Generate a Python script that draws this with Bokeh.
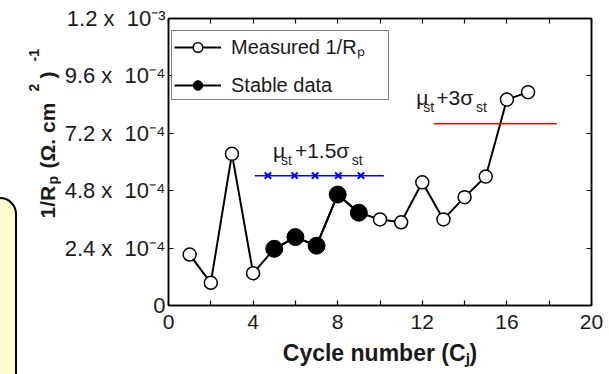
import math
from bokeh.plotting import figure
from bokeh.layouts import row
from bokeh.models import (FixedTicker, LinearAxis, Range1d, Label, Legend, LegendItem, Div)
from bokeh.embed import file_html
from bokeh.resources import INLINE

# ---------------- data ----------------
cycles = [1, 2, 3, 4, 5, 6, 7, 8, 9, 10, 11, 12, 13, 14, 15, 16, 17]
inv_rp = [2.13e-4, 0.95e-4, 6.34e-4, 1.35e-4, 2.37e-4, 2.86e-4, 2.50e-4, 4.64e-4,
          3.88e-4, 3.60e-4, 3.48e-4, 5.15e-4, 3.60e-4, 4.53e-4, 5.39e-4, 8.61e-4, 8.92e-4]
stable_cycles = [5, 6, 7, 8, 9]
stable_vals = [2.37e-4, 2.86e-4, 2.50e-4, 4.64e-4, 3.88e-4]

lim15_x = [4.08, 10.18]
lim15_y = [5.43e-4, 5.43e-4]
lim15_marks_x = [4.7, 5.96, 6.93, 8.03, 9.1]
lim3_x = [12.55, 18.35]
lim3_y = [7.60e-4, 7.60e-4]

x_ticks = [0, 4, 8, 12, 16, 20]
x_minor = [2, 6, 10, 14, 18]
y_ticks = [0, 2.4e-4, 4.8e-4, 7.2e-4, 9.6e-4, 1.2e-3]
y_tick_labels = ["0",
                 "2.4 x\u00a0 10\u207b\u2074", "4.8 x\u00a0 10\u207b\u2074",
                 "7.2 x\u00a0 10\u207b\u2074", "9.6 x\u00a0 10\u207b\u2074",
                 "1.2 x\u00a0 10\u207b\u00b3"]

# y-axis title pieces: (text, font px, start px along text from bottom, baseline x)
ytitle_parts = [("1/R", 21, 218, 47), ("p", 14, 184, 52), ("(\u03a9. cm", 21, 168, 47),
                ("2", 14, 91, 33), (")", 21, 78, 47), ("-1", 14, 61, 33)]

X0, X1 = 0, 20
Y0, Y1 = 0, 1.2e-3

# ---------------- layout geometry ----------------
W, H = 609, 374
YW = 17                      # yellow strip width
TW = 44                      # y-title strip width
MW = W - YW - TW             # main figure width
ML, MR, MT, MB = 166 - YW - TW, 18, 18, 69
FW, FH = MW - ML - MR, H - MT - MB
FONT = "Liberation Sans"
TXT = "#1a1a1a"

# ---------------- yellow strip (decorative box, no text) ----------------
yellow = Div(width=YW, height=H, margin=0,
             text='<div style="margin:197px 0 0 -24px; width:41px; height:177px; '
                  'background:#FFFCCF; border:2px solid black; border-bottom:none; '
                  'border-top-right-radius:17px; box-sizing:border-box;"></div>',
             styles={"overflow": "hidden"})

# ---------------- y-title strip ----------------
tfig = figure(width=TW, height=H, output_backend="svg", toolbar_location=None,
              x_range=Range1d(YW, YW + TW), y_range=Range1d(H - MB, MT),
              x_axis_type=None, y_axis_type=None,
              min_border_left=0, min_border_right=0, min_border_top=MT,
              min_border_bottom=MB, background_fill_color="white",
              border_fill_color="white")
tfig.outline_line_color = None
tfig.xgrid.visible = False
tfig.ygrid.visible = False
for txt, fs, start, base in ytitle_parts:
    tfig.add_layout(Label(x=base, y=start, text=txt, text_font=FONT,
                          text_font_size=f"{fs}px", text_font_style="bold",
                          text_align="left", text_baseline="alphabetic",
                          angle=math.pi / 2, text_color=TXT))

# ---------------- main figure ----------------
p = figure(width=MW, height=H, output_backend="svg", toolbar_location=None,
           x_range=Range1d(X0, X1), y_range=Range1d(Y0, Y1),
           min_border_left=ML, min_border_right=MR, min_border_top=MT,
           min_border_bottom=MB, background_fill_color="white",
           border_fill_color="white")
p.xgrid.visible = False
p.ygrid.visible = False
p.outline_line_color = "black"
p.outline_line_width = 1.5

xt = FixedTicker(ticks=x_ticks, minor_ticks=x_minor)
yt = FixedTicker(ticks=y_ticks, minor_ticks=[])


def style_axis(ax):
    ax.axis_line_color = "black"
    ax.axis_line_width = 1.5
    ax.major_tick_in = 5
    ax.major_tick_out = 0
    ax.minor_tick_in = 5
    ax.minor_tick_out = 0
    ax.major_tick_line_color = "black"
    ax.minor_tick_line_color = "black"
    ax.major_tick_line_width = 1.2
    ax.minor_tick_line_width = 1.2
    ax.major_label_text_font = FONT
    ax.major_label_text_color = TXT


xa = p.xaxis[0]
xa.ticker = xt
style_axis(xa)
xa.major_label_text_font_size = "21px"
xa.major_label_standoff = 9
xa.axis_label = "Cycle number (C\u2c7c)"
xa.axis_label_text_font = FONT
xa.axis_label_text_font_size = "23px"
xa.axis_label_text_font_style = "bold"
xa.axis_label_text_color = TXT
xa.axis_label_standoff = 8

ya = p.yaxis[0]
ya.ticker = yt
style_axis(ya)
ya.major_label_text_font_size = "22px"
ya.major_label_standoff = 3
ya.major_label_overrides = {t: s for t, s in zip(y_ticks, y_tick_labels)}

top = LinearAxis(ticker=xt)
style_axis(top)
top.major_label_overrides = {t: "" for t in x_ticks}
top.major_label_standoff = 0
top.major_label_text_font_size = "4px"
p.add_layout(top, "above")

right = LinearAxis(ticker=yt)
style_axis(right)
right.major_label_overrides = {t: "" for t in y_ticks}
right.major_label_standoff = 0
right.major_label_text_font_size = "4px"
p.add_layout(right, "right")

# ---------------- data marks ----------------
main_line = p.line(cycles, inv_rp, line_color="black", line_width=2)
open_pts = p.scatter(cycles, inv_rp, marker="circle", size=13, fill_color="white",
                     line_color="black", line_width=1.5)
stable_line = p.line(stable_cycles, stable_vals, line_color="black", line_width=2)
stable_pts = p.scatter(stable_cycles, stable_vals, marker="circle", size=17,
                       fill_color="black", line_color="black")

p.line(lim15_x, lim15_y, line_color="#0000FF", line_width=1.5)
p.scatter(lim15_marks_x, [lim15_y[0]] * len(lim15_marks_x), marker="x", size=9,
          line_color="#0000FF", line_width=2)
p.line(lim3_x, lim3_y, line_color="#FF0000", line_width=1.5)

# ---------------- legend ----------------
legend = Legend(items=[LegendItem(label="Measured 1/R\u209a", renderers=[main_line, open_pts]),
                       LegendItem(label="Stable data", renderers=[stable_line, stable_pts])],
                location=(3, 205), orientation="vertical")
legend.border_line_color = "black"
legend.border_line_width = 1.5
legend.background_fill_color = "white"
legend.background_fill_alpha = 1.0
legend.label_text_font = FONT
legend.label_text_font_size = "20px"
legend.label_text_color = TXT
legend.glyph_width = 47
legend.glyph_height = 24
legend.label_standoff = 10
legend.label_width = 155
legend.padding = 2
legend.spacing = 13
legend.margin = 0
p.add_layout(legend, "center")


# ---------------- in-plot text annotations ----------------
def px_x(px):
    return X0 + (px - 166) / FW * (X1 - X0)


def px_y(py):
    return Y0 + (H - MB - py) / FH * (Y1 - Y0)


def lab(txt, px, py, size):
    p.add_layout(Label(x=px_x(px), y=px_y(py), text=txt, text_font=FONT,
                       text_font_size=f"{size}px", text_align="left",
                       text_baseline="alphabetic", text_color=TXT))


lab("\u03bc", 271, 150, 21)
lab("st", 279, 159, 14)
lab("+1.5\u03c3", 293, 150, 21)
lab("st", 350, 159, 14)

lab("\u03bc", 415, 97, 21)
lab("st", 422, 106, 14)
lab("+3\u03c3", 435, 97, 21)
lab("st", 475, 106, 14)

layout = row(yellow, tfig, p, spacing=0)
open("out.html", "w").write(file_html(layout, INLINE))
